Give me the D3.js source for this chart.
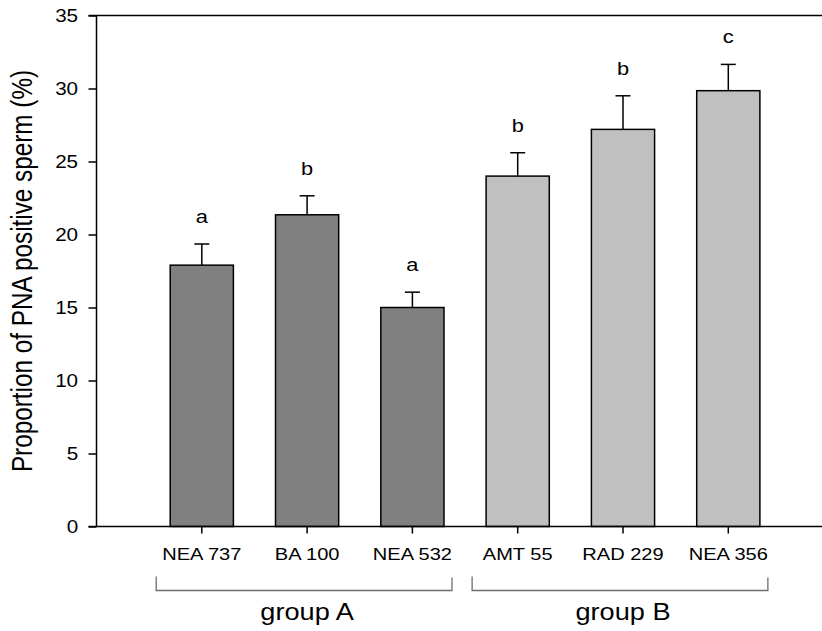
<!DOCTYPE html>
<html>
<head>
<meta charset="utf-8">
<script src="https://cdn.jsdelivr.net/npm/d3@7"></script>
<style>
  body { margin: 0; background: #fff; }
  text { font-family: "Liberation Sans", Arial, sans-serif; fill: #000; }
</style>
</head>
<body>
<div id="vis"></div>
<script>
// data
const categories = ["NEA 737", "BA 100", "NEA 532", "AMT 55", "RAD 229", "NEA 356"];
const means = [17.9, 21.35, 15.0, 24.0, 27.2, 29.85];
const sems = [1.45, 1.3, 1.05, 1.6, 2.3, 1.8];
const letters = ["a", "b", "a", "b", "b", "c"];
const groupOf = ["A", "A", "A", "B", "B", "B"];
const groupNames = ["A", "B"];
const groupLabels = ["group A", "group B"];
const yTicks = [0, 5, 10, 15, 20, 25, 30, 35];

// layout
const WIDTH = 822, HEIGHT = 631;
const X0 = 96.5, TOP = 15.5, BOTTOM = 526.5;
const STEP = 105.3;
const SX = 1.18; // text in the picture is a little wider than tall
const colors = {A: "#808080", B: "#c0c0c0"};

const svg = d3.select("#vis").append("svg")
    .attr("width", WIDTH)
    .attr("height", HEIGHT);

const x = d3.scaleBand()
    .domain(categories)
    .range([X0 + 0.5 * STEP, X0 + 6.5 * STEP])
    .paddingInner(0.4)
    .paddingOuter(0.2);

const y = d3.scaleLinear()
    .domain([0, 35])
    .range([BOTTOM, TOP]);

// bars
svg.selectAll(".bar")
  .data(categories)
  .enter()
  .append("rect")
    .attr("class", "bar")
    .attr("x", (d) => x(d))
    .attr("y", (d, i) => y(means[i]))
    .attr("width", x.bandwidth())
    .attr("height", (d, i) => y(0) - y(means[i]))
    .attr("fill", (d, i) => colors[groupOf[i]])
    .attr("stroke", "#000")
    .attr("stroke-width", 1.5);

// error bars (upper only)
const err = svg.selectAll(".err")
  .data(categories)
  .enter()
  .append("g")
    .attr("class", "err")
    .attr("transform", (d) => "translate(" + (x(d) + x.bandwidth() / 2) + ",0)");
err.append("line")
    .attr("y1", (d, i) => y(means[i]))
    .attr("y2", (d, i) => y(means[i] + sems[i]))
    .attr("stroke", "#000").attr("stroke-width", 1.5);
err.append("line")
    .attr("x1", -7.5).attr("x2", 7.5)
    .attr("y1", (d, i) => y(means[i] + sems[i]))
    .attr("y2", (d, i) => y(means[i] + sems[i]))
    .attr("stroke", "#000").attr("stroke-width", 1.5);

// significance letters
svg.selectAll(".letter")
  .data(categories)
  .enter()
  .append("text")
    .attr("class", "letter")
    .attr("transform", (d, i) => "translate(" + (x(d) + x.bandwidth() / 2) + "," +
          (y(means[i] + sems[i]) - 21) + ") scale(" + SX + ",1)")
    .attr("text-anchor", "middle")
    .style("font-size", "18.5px")
    .text((d, i) => letters[i]);

// y axis
const yAxis = svg.append("g")
    .attr("transform", "translate(" + X0 + ",0)")
    .call(d3.axisLeft(y).tickValues(yTicks).tickSize(8).tickSizeOuter(0));
yAxis.select(".domain").remove();
yAxis.selectAll("line").attr("stroke-width", 1.5);
yAxis.selectAll("text")
    .attr("x", -15.6)
    .attr("transform", "scale(" + SX + ",1)")
    .style("font-size", "17.5px")
    .style("font-family", "Liberation Sans, Arial, sans-serif");

// x axis
const xAxis = svg.append("g")
    .attr("transform", "translate(0," + BOTTOM + ")")
    .call(d3.axisBottom(x).tickSize(7).tickSizeOuter(0));
xAxis.select(".domain").remove();
xAxis.selectAll("line").attr("stroke-width", 1.5);
xAxis.selectAll("text")
    .attr("y", 34)
    .attr("dy", null)
    .attr("transform", "scale(" + SX + ",1)")
    .attr("x", 0)
    .style("font-size", "17px")
    .style("font-family", "Liberation Sans, Arial, sans-serif");

// frame lines: left, bottom, top
svg.append("line")
    .attr("x1", X0).attr("x2", X0).attr("y1", TOP).attr("y2", BOTTOM)
    .attr("stroke", "#000").attr("stroke-width", 1.5);
svg.append("line")
    .attr("x1", X0 - 8).attr("x2", WIDTH).attr("y1", BOTTOM).attr("y2", BOTTOM)
    .attr("stroke", "#000").attr("stroke-width", 1.5);
svg.append("line")
    .attr("x1", X0 - 8).attr("x2", WIDTH).attr("y1", TOP).attr("y2", TOP)
    .attr("stroke", "#000").attr("stroke-width", 1.5);

// y title
svg.append("text")
    .attr("transform", "translate(32," + ((TOP + BOTTOM) / 2) + ") rotate(-90) scale(1," + SX + ")")
    .attr("text-anchor", "middle")
    .style("font-size", "24.3px")
    .text("Proportion of PNA positive sperm (%)");

// group brackets
const BRACKET_Y = 590.5;
groupNames.forEach((g, gi) => {
  const cats = categories.filter((c, i) => groupOf[i] === g);
  const left = x(cats[0]) - 14;
  const right = x(cats[cats.length - 1]) + x.bandwidth() + 8;
  const b = svg.append("g")
      .attr("fill", "none")
      .attr("stroke", "#6e6e6e")
      .attr("stroke-width", 1.3);
  b.append("path")
      .attr("d", "M" + left + "," + (BRACKET_Y - 14) + "V" + BRACKET_Y +
                 "H" + right + "V" + (BRACKET_Y - 13));
  const mid = cats[Math.floor(cats.length / 2)];
  svg.append("text")
      .attr("transform", "translate(" + (x(mid) + x.bandwidth() / 2) + ",620) scale(" + SX + ",1)")
      .attr("text-anchor", "middle")
      .style("font-size", "23px")
      .text(groupLabels[gi]);
});
</script>
</body>
</html>
